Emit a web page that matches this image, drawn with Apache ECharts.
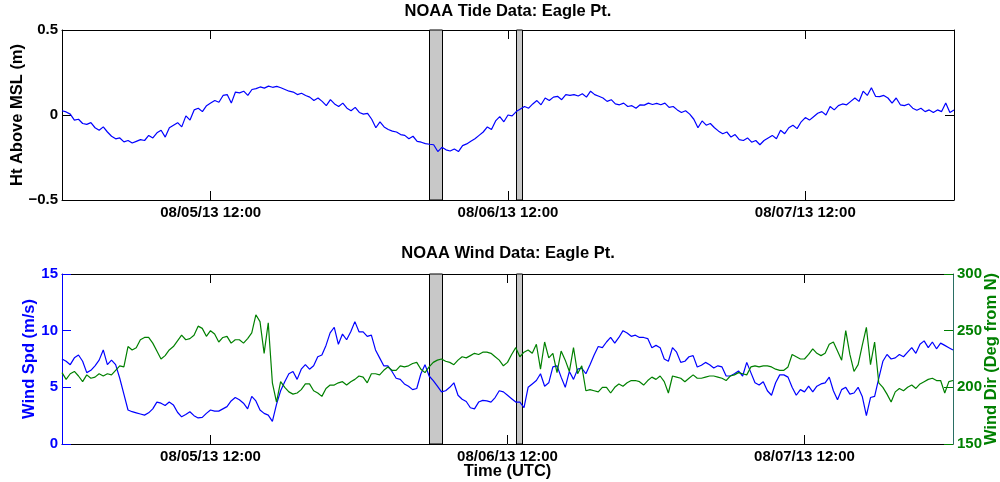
<!DOCTYPE html>
<html>
<head>
<meta charset="utf-8">
<script src="https://cdn.jsdelivr.net/npm/echarts@6/dist/echarts.min.js"></script>
<style>
  html, body { margin: 0; padding: 0; background: #fff; }
  #chart { width: 1000px; height: 482px; }
</style>
</head>
<body>
<div id="chart"></div>
<script>
// Time runs in hours from 08/05/13 00:00 UTC; one sample every 20 minutes.
const stepHours = 1 / 3;
const tickHours = [12, 36, 60];
const tickLabels = ['08/05/13 12:00', '08/06/13 12:00', '08/07/13 12:00'];

// Data gaps (hours since start) shaded in both panels
const gapBands = [[29.62, 30.70], [36.67, 37.13]];

// Water level above MSL (m), Eagle Pt.
const tideHeight = [
  0.025, 0.018, 0.005, -0.03, -0.025, -0.05, -0.055, -0.045, -0.075, -0.09, -0.07, -0.1,
  -0.125, -0.14, -0.135, -0.158, -0.15, -0.165, -0.155, -0.145, -0.15, -0.12, -0.135, -0.105,
  -0.09, -0.13, -0.075, -0.06, -0.045, -0.07, -0.005, -0.03, 0.03, 0.04, 0.02, 0.055,
  0.07, 0.085, 0.075, 0.115, 0.12, 0.07, 0.135, 0.13, 0.14, 0.115, 0.15, 0.155,
  0.165, 0.158, 0.17, 0.163, 0.168, 0.16, 0.15, 0.14, 0.135, 0.12, 0.128, 0.115,
  0.105, 0.085, 0.1, 0.08, 0.055, 0.09, 0.065, 0.05, 0.07, 0.04, 0.025, 0.045,
  0.015, 0.005, 0.01, -0.025, -0.075, -0.04, -0.07, -0.085, -0.095, -0.1, -0.115, -0.12,
  -0.14, -0.125, -0.155, -0.16, -0.168, -0.172, -0.175, -0.215, -0.19, -0.205, -0.212, -0.2,
  -0.215, -0.18, -0.17, -0.155, -0.14, -0.12, -0.1, -0.07, -0.085, -0.035, -0.01, -0.04,
  0.0, -0.005, 0.02, 0.035, 0.05, 0.04, 0.065, 0.085, 0.06, 0.1, 0.085, 0.105,
  0.11, 0.09, 0.12, 0.115, 0.12, 0.112, 0.125, 0.105, 0.14, 0.12, 0.11, 0.1,
  0.08, 0.09, 0.065, 0.06, 0.07, 0.05, 0.055, 0.04, 0.06, 0.058, 0.07, 0.062,
  0.068, 0.06, 0.07, 0.045, 0.05, 0.03, 0.015, 0.025, 0.005, -0.025, -0.075, -0.035,
  -0.06, -0.05, -0.075, -0.095, -0.11, -0.1, -0.13, -0.115, -0.145, -0.15, -0.135, -0.16,
  -0.15, -0.175, -0.15, -0.135, -0.12, -0.14, -0.09, -0.11, -0.075, -0.06, -0.08, -0.04,
  -0.015, -0.03, -0.01, 0.01, 0.02, 0.0, 0.05, 0.03, 0.055, 0.065, 0.06, 0.08,
  0.1, 0.08, 0.14, 0.115, 0.16, 0.11, 0.108, 0.115, 0.1, 0.07, 0.1, 0.06,
  0.055, 0.065, 0.04, 0.028, 0.04, 0.02, 0.03, 0.015, 0.03, 0.02, 0.07, 0.015,
  0.03
];

// Wind speed (m/s)
const windSpeed = [
  7.5, 7.3, 7.0, 7.6, 7.85, 7.3, 6.3, 6.5, 6.9, 7.4,
  8.3, 7.0, 7.4, 7.0, 5.8, 4.4, 3.0, 2.85, 2.75, 2.65,
  2.55, 2.75, 3.1, 3.7, 3.6, 3.4, 3.7, 3.45, 2.8, 2.4,
  2.6, 2.85, 2.5, 2.3, 2.35, 2.7, 3.0, 2.9, 2.9, 3.1,
  3.3, 3.8, 4.1, 3.9, 3.6, 3.1, 4.2, 3.8, 3.0, 2.7,
  2.55, 2.0, 3.5, 4.7, 5.5, 6.2, 6.4, 5.7, 6.6, 7.0,
  6.6, 6.9, 7.7, 7.85, 8.7, 9.8, 10.3, 8.8, 9.7, 9.2,
  9.9, 10.8, 9.9, 9.9, 9.5, 9.6, 8.3, 7.6, 6.9, 6.9,
  6.4, 5.8, 5.7, 5.3, 5.1, 4.8, 4.9, 6.2, 7.0, 6.0,
  5.6, 5.1, 4.6, 4.7, 5.0, 5.4, 4.3, 3.95, 3.75, 3.2,
  3.1, 3.7, 3.85, 3.8, 3.7, 4.1, 4.7, 4.6, 4.3, 4.0,
  3.7, 3.7, 3.2, 5.0, 5.3, 5.6, 6.2, 5.1, 5.4, 6.8,
  6.9, 5.9, 5.0, 6.4, 5.7, 6.6, 6.7, 6.2, 7.0, 7.85,
  8.6, 8.5, 9.0, 9.4, 8.9, 9.4, 10.0, 9.8, 9.5, 9.6,
  9.4, 9.4, 9.3, 8.5, 8.7, 8.5, 7.5, 7.3, 8.5, 8.1,
  7.2, 7.3, 7.7, 7.8, 6.8, 6.95, 7.2, 7.0, 6.7, 6.9,
  6.8, 6.0, 6.0, 6.2, 6.45, 6.0, 7.2, 6.3, 5.4, 5.2,
  5.5, 4.7, 4.3, 5.4, 6.1, 6.1, 5.9, 5.0, 4.3, 4.8,
  4.6, 5.1, 4.6, 5.1, 5.3, 5.4, 5.9, 4.7, 3.9, 4.8,
  5.0, 4.4, 4.5, 5.0, 4.2, 2.5, 4.1, 4.2, 5.8, 7.3,
  7.9, 7.5, 7.6, 7.9, 7.7, 8.1, 8.5, 8.0, 8.8, 9.1,
  8.5, 9.0, 8.4, 8.9, 8.7, 8.5, 8.3
];

// Wind direction (degrees from N)
const windDir = [
  213, 207, 212, 214, 210, 205, 211, 208, 209, 212,
  210, 212, 211, 215, 219, 218, 236, 233, 235, 242,
  244, 244, 239, 232, 225, 228, 233, 236, 241, 246,
  242, 243, 246, 254, 252, 245, 250, 247, 240, 244,
  245, 239, 242, 242, 239, 243, 248, 264, 258, 230,
  257, 204, 187, 205, 200, 196, 194, 195, 198, 203,
  203, 197, 195, 192, 199, 202, 202, 204, 205, 202,
  205, 207, 210, 209, 204, 212, 212, 211, 215, 218,
  215, 215, 219, 218, 219, 221, 222, 216, 213, 218,
  222, 224, 225, 223, 222, 220, 224, 227, 226, 228,
  230, 229, 231, 231, 230, 227, 224, 219, 222, 229,
  235, 227, 231, 233, 230, 238, 216, 240, 226, 230,
  213, 232, 224, 214, 235, 212, 219, 197, 198, 197,
  196, 200, 200, 195, 200, 203, 201, 204, 206, 206,
  205, 202, 206, 209, 207, 210, 205, 195, 210, 209,
  208, 205, 208, 211, 208, 208, 209, 210, 210, 209,
  208, 206, 210, 211, 213, 212, 211, 218, 219, 218,
  219, 219, 218, 216, 215, 215, 218, 229, 227, 225,
  225, 229, 234, 230, 228, 230, 238, 240, 232, 224,
  250, 229, 214, 220, 237, 253, 220, 240, 204, 200,
  194, 187, 196, 199, 197, 200, 202, 199, 203, 205,
  207, 208, 206, 206, 195, 205, 206
];

const FONT = "'Liberation Sans', Arial, Helvetica, sans-serif";
const BLUE = '#0000ff';
const GREEN = '#008000';
const RIGHT_EDGE = '#2a6e64';

const toPairs = arr => arr.map((v, i) => [i * stepHours, v]);
const signed = v => (v < 0 ? '\u2212' + Math.abs(v) : String(v));

function timeAxis(gridIndex, position, withLabels, extra) {
  return Object.assign({
    gridIndex, type: 'value', position, min: 0, max: 72,
    axisLine: { show: true, onZero: false, lineStyle: { color: '#000', width: 1 } },
    axisTick: { show: true, inside: true, length: 9, customValues: tickHours, lineStyle: { color: '#000' } },
    axisLabel: {
      show: withLabels, customValues: tickHours, margin: 5,
      formatter: v => tickLabels[tickHours.indexOf(v)],
      fontFamily: FONT, fontWeight: 'bold', fontSize: 15, color: '#000'
    },
    splitLine: { show: false }
  }, extra || {});
}

function valueAxis(gridIndex, position, min, max, interval, color, tickColor, withLabels, extra) {
  return Object.assign({
    gridIndex, type: 'value', position, min, max, interval,
    axisLine: { show: true, onZero: false, lineStyle: { color, width: 1 } },
    axisTick: { show: true, inside: true, length: 9, lineStyle: { color: tickColor } },
    axisLabel: {
      show: withLabels, margin: 4, formatter: signed,
      fontFamily: FONT, fontWeight: 'bold', fontSize: 15, color: tickColor
    },
    splitLine: { show: false }
  }, extra || {});
}

// Shaded gap rectangles spanning the full height of a panel
function bandSeries(xi, yi) {
  return {
    type: 'custom', xAxisIndex: xi, yAxisIndex: yi, z: 1, silent: true,
    data: gapBands,
    encode: { x: [0, 1] },
    renderItem: (params, api) => {
      const cs = params.coordSys;
      const x0 = api.coord([api.value(0), 0])[0];
      const x1 = api.coord([api.value(1), 0])[0];
      return {
        type: 'rect',
        shape: { x: Math.round(x0) + 0.5, y: cs.y, width: Math.round(x1 - x0), height: cs.height },
        style: { fill: '#c8c8c8', stroke: '#000', lineWidth: 1 }
      };
    }
  };
}

const nameStyle = (color) => ({ fontFamily: FONT, fontWeight: 'bold', fontSize: 16.5, color });

const chart = echarts.init(document.getElementById('chart'), null, { renderer: 'canvas' });
chart.setOption({
  animation: false,
  backgroundColor: '#fff',
  grid: [
    { left: 62, top: 30, width: 892, height: 170, containLabel: false, outerBoundsMode: 'none' },
    { left: 62, top: 274, width: 891, height: 170, containLabel: false, outerBoundsMode: 'none' }
  ],
  graphic: [
    { type: 'text', x: 508, y: 3, style: { text: 'NOAA Tide Data: Eagle Pt.', fill: '#000', fontFamily: FONT, fontWeight: 'bold', fontSize: 16.5, align: 'center', verticalAlign: 'top' } },
    { type: 'text', x: 508, y: 245, style: { text: 'NOAA Wind Data: Eagle Pt.', fill: '#000', fontFamily: FONT, fontWeight: 'bold', fontSize: 16.5, align: 'center', verticalAlign: 'top' } }
  ],
  xAxis: [
    timeAxis(0, 'bottom', true),
    timeAxis(0, 'top', false),
    timeAxis(1, 'bottom', true, {
      name: 'Time (UTC)', nameLocation: 'middle', nameGap: 19, nameMoveOverlap: false,
      nameTextStyle: nameStyle('#000')
    }),
    timeAxis(1, 'top', false)
  ],
  yAxis: [
    valueAxis(0, 'left', -0.5, 0.5, 0.5, '#000', '#000', true, {
      name: 'Ht Above MSL (m)', nameLocation: 'middle', nameGap: 36, nameMoveOverlap: false,
      nameTextStyle: nameStyle('#000')
    }),
    valueAxis(0, 'right', -0.5, 0.5, 0.5, '#000', '#000', false),
    valueAxis(1, 'left', 0, 15, 5, BLUE, BLUE, true, {
      name: 'Wind Spd (m/s)', nameLocation: 'middle', nameGap: 24, nameMoveOverlap: false,
      nameTextStyle: nameStyle(BLUE)
    }),
    valueAxis(1, 'right', 150, 300, 50, RIGHT_EDGE, GREEN, true, {
      name: 'Wind Dir (Deg from N)', nameLocation: 'middle', nameGap: 30, nameMoveOverlap: false,
      nameTextStyle: nameStyle(GREEN)
    })
  ],
  series: [
    bandSeries(0, 0),
    {
      name: 'Tide', type: 'line', xAxisIndex: 0, yAxisIndex: 0, data: toPairs(tideHeight),
      showSymbol: false, z: 3, lineStyle: { color: BLUE, width: 1.2 }
    },
    bandSeries(2, 2),
    {
      name: 'Wind Spd', type: 'line', xAxisIndex: 2, yAxisIndex: 2, data: toPairs(windSpeed),
      showSymbol: false, z: 3, lineStyle: { color: BLUE, width: 1.2 }
    },
    {
      name: 'Wind Dir', type: 'line', xAxisIndex: 2, yAxisIndex: 3, data: toPairs(windDir),
      showSymbol: false, z: 4, lineStyle: { color: GREEN, width: 1.2 }
    }
  ]
});
</script>
</body>
</html>
